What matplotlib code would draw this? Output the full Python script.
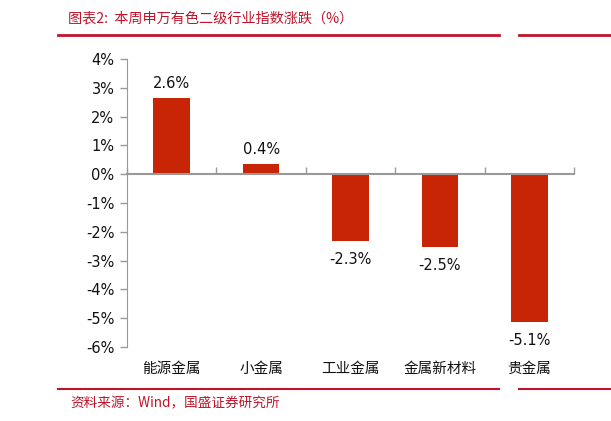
import matplotlib
matplotlib.use("Agg")
import matplotlib.pyplot as plt
from matplotlib.lines import Line2D
import numpy as np

plt.rcParams['font.family'] = ['DejaVu Sans', 'Noto Sans CJK SC']

categories = ["能源金属", "小金属", "工业金属", "金属新材料", "贵金属"]
values = [2.64, 0.36, -2.32, -2.52, -5.14]
yticks = [4, 3, 2, 1, 0, -1, -2, -3, -4, -5, -6]
title = "图表2:  本周申万有色二级行业指数涨跌（%）"
source = "资料来源：Wind，国盛证券研究所"

W, H = 611, 421
fig = plt.figure(figsize=(W / 100, H / 100), dpi=100)
ax = fig.add_axes([127 / W, (H - 347) / H, (574 - 127) / W, (347 - 59) / H])

x = np.arange(len(categories))
bar_color = "#C82506"
ax.bar(x, values, width=0.41, color=bar_color, zorder=3)

ax.set_xlim(-0.5, len(categories) - 0.5)
ax.set_ylim(-6, 4)
ax.set_yticks(yticks)
ax.set_yticklabels([f"{t}%" for t in yticks], fontsize=10.5, color="#111111")
ax.tick_params(axis='y', direction='out', length=5, color="#999999", width=1, pad=4)

for s in ['top', 'right']:
    ax.spines[s].set_visible(False)
ax.spines['left'].set_color("#999999")

# zero axis line with category boundary ticks
ax.spines['bottom'].set_position(('data', 0))
ax.spines['bottom'].set_color("#999999")
ax.spines['bottom'].set_linewidth(1.5)
ax.spines['bottom'].set_zorder(4)
ax.set_xticks(np.arange(len(categories) + 1) - 0.5)
ax.set_xticklabels([])
ax.tick_params(axis='x', direction='in', length=5, color="#999999", width=1)

# category labels at the bottom
sec = ax.secondary_xaxis('bottom')
sec.set_xticks(x)
sec.set_xticklabels(categories, fontsize=10.5, family=['Noto Sans CJK SC'], color="#111111")
sec.tick_params(length=0, pad=11)
for s in sec.spines.values():
    s.set_visible(False)

for xi, v in zip(x, values):
    if v >= 0:
        ax.annotate(f"{v:.1f}%", (xi, v), xytext=(0, 5), textcoords='offset points',
                    ha='center', va='bottom', fontsize=10.5, color="#111111")
    else:
        ax.annotate(f"{v:.1f}%", (xi, v), xytext=(0, -8), textcoords='offset points',
                    ha='center', va='top', fontsize=10.5, color="#111111")

red = "#C0142A"
fig.text(68 / W, 1 - 18 / H, title, fontsize=10.2, color=red, style='italic',
         family=['Noto Sans CJK SC', 'DejaVu Sans'], va='center', ha='left')
fig.text(70 / W, 1 - 403 / H, source, fontsize=9.8, color=red, style='italic',
         family=['Noto Sans CJK SC', 'DejaVu Sans'], va='center', ha='left')

for yy, lw in [(35, 2.0), (389, 1.5)]:
    fig.add_artist(Line2D([58 / W, 499 / W], [1 - yy / H, 1 - yy / H], color=red, lw=lw))
    fig.add_artist(Line2D([519 / W, 1.0], [1 - yy / H, 1 - yy / H], color=red, lw=lw))

fig.savefig("out.png", dpi=100)
